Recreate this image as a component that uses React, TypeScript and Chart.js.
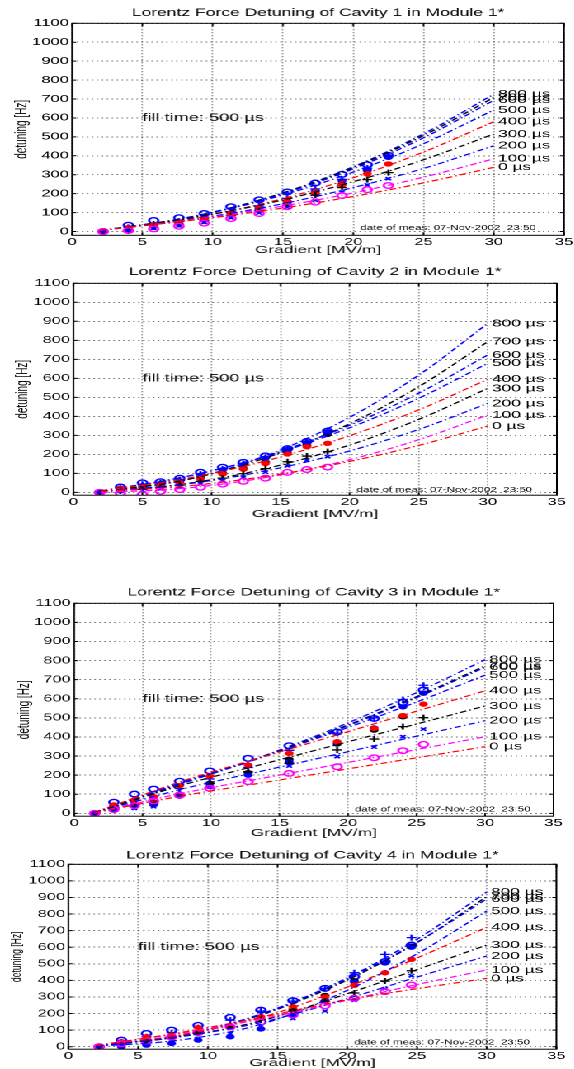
import React, { useEffect, useRef } from "react";
import { Chart, registerables } from "chart.js";
Chart.register(...registerables);

const STRETCH = 1.65;
const PAGE_W = 574;
const PAGE_H = 1069;
const BASE_W = PAGE_W / STRETCH;
const FONT = '"Liberation Sans", Arial, Helvetica, sans-serif';
Chart.defaults.font.family = FONT;

// ---------- axes / labels ----------
const xTicks = [0, 5, 10, 15, 20, 25, 30, 35];
const yTicks = [0, 100, 200, 300, 400, 500, 600, 700, 800, 900, 1000, 1100];
const xAxisTitle = "Gradient [MV/m]";
const yAxisTitle = "detuning [Hz]";
const noteText = "fill time: 500 \u00b5s";
const notePos = [5, 600];
const dateText = "date of meas: 07-Nov-2002  23:50";
const dateX = 20.5;
const fillLabelX = 30.3;
const fillLabels = ["0 \u00b5s", "100 \u00b5s", "200 \u00b5s", "300 \u00b5s", "400 \u00b5s", "500 \u00b5s", "600 \u00b5s", "700 \u00b5s", "800 \u00b5s"];
const fitColors = ["#ff0000", "#ff00ff", "#0000ff", "#000000", "#ff0000", "#0000ff", "#0000ff", "#000000", "#0000ff"];
// measured series: 100..800 us
const measStyles = [
  { style: "circle", color: "#ff00ff", fill: false, r: 2.8, bw: 1.4 },
  { style: "crossRot", color: "#0000ff", fill: false, r: 2.3, bw: 1.3 },
  { style: "cross", color: "#000000", fill: false, r: 3, bw: 1.3 },
  { style: "circle", color: "#ff0000", fill: true, r: 2.2, bw: 1 },
  { style: "circle", color: "#0000ff", fill: true, r: 2.2, bw: 1 },
  { style: "cross", color: "#0000ff", fill: false, r: 3, bw: 1.3 },
  { style: "circle", color: "#000000", fill: true, r: 2.2, bw: 1 },
  { style: "circle", color: "#0000ff", fill: false, r: 2.8, bw: 1.4 },
];

// ---------- Cavity 1 ----------
const cav1FitX = [2, 8, 14, 20, 25, 30];
const cav1Fit = [
  [6, 55, 113, 185, 257, 339],
  [6, 57, 122, 204, 287, 384],
  [5, 59, 132, 232, 333, 453],
  [6, 67, 150, 263, 379, 515],
  [5, 64, 155, 284, 420, 580],
  [5, 71, 172, 314, 464, 642],
  [5, 70, 177, 331, 495, 693],
  [5, 71, 181, 338, 507, 708],
  [5, 68, 180, 342, 516, 725],
];
const cav1MeasX = [2.2, 4.0, 5.8, 7.6, 9.4, 11.3, 13.3, 15.3, 17.3, 19.2, 21.0, 22.5];
const cav1Meas = [
  [0, 5, 14, 28, 44, 68, 95, 131, 155, 190, 221, 243],
  [0, 7, 18, 30, 48, 72, 98, 128, 165, 208, 246, 279],
  [0, 10, 24, 38, 56, 84, 110, 140, 192, 232, 274, 311],
  [0, 20, 36, 50, 66, 95, 122, 162, 202, 245, 305, 357],
  [0, 14, 28, 42, 60, 88, 118, 150, 215, 268, 328, 392],
  [0, 22, 40, 55, 75, 105, 135, 175, 225, 275, 335, 398],
  [0, 18, 35, 50, 68, 98, 125, 160, 205, 250, 322, 395],
  [0, 33, 58, 73, 95, 131, 167, 209, 256, 302, 353, 402],
];

// ---------- Cavity 2 ----------
const cav2FitX = [2, 8, 14, 20, 25, 30];
const cav2Fit = [
  [4, 32, 85, 163, 247, 349],
  [-1, 21, 79, 172, 277, 407],
  [5, 42, 114, 218, 331, 468],
  [4, 44, 126, 249, 384, 547],
  [8, 71, 167, 298, 434, 595],
  [8, 81, 190, 340, 495, 679],
  [8, 80, 193, 353, 522, 723],
  [6, 64, 183, 361, 556, 793],
  [4, 63, 194, 395, 617, 889],
];
const cav2MeasX = [1.9, 3.4, 5.0, 6.3, 7.7, 9.2, 10.8, 12.3, 13.9, 15.5, 16.9, 18.4];
const cav2Meas = [
  [0, -5, -12, 5, 15, 27, 43, 58, 75, 105, 120, 133],
  [0, 5, 10, 18, 28, 44, 60, 80, 106, 139, 170, 188],
  [0, 8, 16, 26, 38, 58, 75, 98, 125, 161, 191, 214],
  [0, 22, 28, 36, 50, 72, 96, 122, 152, 202, 240, 258],
  [0, 18, 35, 45, 60, 90, 118, 145, 180, 225, 262, 318],
  [0, 22, 42, 50, 66, 96, 122, 150, 185, 228, 266, 326],
  [0, 15, 28, 38, 52, 78, 100, 125, 160, 208, 247, 305],
  [0, 28, 50, 56, 74, 106, 132, 158, 192, 230, 268, 322],
];

// ---------- Cavity 3 ----------
const cav3FitX = [1.5, 8, 14, 20, 25, 30];
const cav3Fit = [
  [3, 93, 163, 233, 291, 349],
  [3, 107, 187, 267, 334, 401],
  [3, 129, 226, 323, 404, 485],
  [3, 150, 262, 375, 468, 562],
  [5, 171, 300, 428, 535, 642],
  [5, 165, 302, 450, 583, 724],
  [5, 159, 300, 459, 606, 765],
  [5, 161, 303, 463, 611, 772],
  [5, 160, 305, 474, 632, 805],
];
const cav3MeasX = [1.5, 2.9, 4.4, 5.8, 7.7, 9.9, 12.7, 15.7, 19.2, 21.9, 24.0, 25.5];
const cav3Meas = [
  [0, 20, 40, 65, 95, 131, 166, 209, 244, 291, 328, 361],
  [0, 14, 26, 35, 87, 140, 201, 248, 297, 347, 401, 441],
  [0, 17, 35, 52, 96, 157, 218, 262, 332, 389, 454, 501],
  [0, 44, 70, 87, 145, 195, 253, 314, 375, 445, 512, 572],
  [0, 20, 35, 45, 90, 140, 200, 270, 370, 447, 558, 630],
  [0, 40, 70, 90, 130, 180, 240, 330, 420, 500, 596, 671],
  [0, 26, 47, 58, 101, 157, 213, 283, 363, 436, 506, 630],
  [0, 58, 101, 127, 168, 222, 288, 354, 426, 497, 581, 646],
];

// ---------- Cavity 4 ----------
const cav4FitX = [2, 8, 14, 20, 25, 30];
const cav4Fit = [
  [8, 85, 180, 283, 350, 412],
  [8, 80, 170, 280, 375, 463],
  [5, 60, 150, 290, 420, 547],
  [5, 60, 160, 320, 465, 613],
  [5, 70, 180, 360, 535, 720],
  [3, 40, 140, 340, 560, 818],
  [5, 70, 200, 410, 630, 891],
  [4, 64, 197, 402, 628, 905],
  [4, 66, 203, 415, 648, 933],
];
const cav4MeasX = [2.2, 3.8, 5.6, 7.4, 9.3, 11.6, 13.8, 16.1, 18.4, 20.5, 22.7, 24.6];
const cav4Meas = [
  [0, 18, 35, 58, 85, 120, 150, 191, 247, 292, 332, 372],
  [0, 6, 14, 26, 50, 80, 125, 170, 215, 280, 350, 428],
  [0, 15, 30, 55, 80, 121, 165, 215, 275, 324, 396, 458],
  [0, 30, 60, 70, 115, 127, 181, 241, 300, 370, 446, 527],
  [0, 0, 10, 20, 40, 60, 107, 191, 277, 390, 505, 600],
  [0, 30, 60, 85, 115, 160, 215, 275, 350, 446, 557, 658],
  [0, 20, 36, 56, 85, 121, 171, 225, 309, 398, 507, 607],
  [0, 40, 80, 100, 129, 177, 221, 278, 352, 422, 513, 613],
];

type PanelSpec = {
  title: string;
  canvasTop: number;
  canvasH: number;
  plotLeft: number;
  plotRight: number;
  plotTop: number;
  plotBottom: number;
  yMin: number;
  titleY: number;
  xLabelY: number;
  yLabelX: number;
  yLabelSize: number;
  dateY: number;
  fitX: number[];
  fits: number[][];
  measX: number[];
  meas: number[][];
};

const panels: PanelSpec[] = [
  {
    title: "Lorentz Force Detuning of Cavity 1 in Module 1*",
    canvasTop: 0, canvasH: 260, plotLeft: 72, plotRight: 566, plotTop: 23.3, plotBottom: 235.3, yMin: -20,
    titleY: 13, xLabelY: 250, yLabelX: 22, yLabelSize: 10, dateY: 17,
    fitX: cav1FitX, fits: cav1Fit, measX: cav1MeasX, meas: cav1Meas,
  },
  {
    title: "Lorentz Force Detuning of Cavity 2 in Module 1*",
    canvasTop: 260, canvasH: 265, plotLeft: 73.3, plotRight: 556, plotTop: 283.3, plotBottom: 495.2, yMin: -15,
    titleY: 272, xLabelY: 514, yLabelX: 22.3, yLabelSize: 10, dateY: 12,
    fitX: cav2FitX, fits: cav2Fit, measX: cav2MeasX, meas: cav2Meas,
  },
  {
    title: "Lorentz Force Detuning of Cavity 3 in Module 1*",
    canvasTop: 560, canvasH: 280, plotLeft: 74, plotRight: 552.7, plotTop: 603.3, plotBottom: 816.2, yMin: -15,
    titleY: 592.7, xLabelY: 833, yLabelX: 24, yLabelSize: 10, dateY: 21,
    fitX: cav3FitX, fits: cav3Fit, measX: cav3MeasX, meas: cav3Meas,
  },
  {
    title: "Lorentz Force Detuning of Cavity 4 in Module 1*",
    canvasTop: 840, canvasH: 229, plotLeft: 68.3, plotRight: 555.6, plotTop: 864.3, plotBottom: 1049.2, yMin: -15,
    titleY: 855.5, xLabelY: 1063, yLabelX: 16.3, yLabelSize: 8.6, dateY: 26,
    fitX: cav4FitX, fits: cav4Fit, measX: cav4MeasX, meas: cav4Meas,
  },
];

function Panel({ spec }: { spec: PanelSpec }) {
  const ref = useRef<HTMLCanvasElement | null>(null);
  useEffect(() => {
    const canvas = ref.current;
    if (!canvas) return;
    const datasets: any[] = [];
    spec.fits.forEach((ys, i) => {
      datasets.push({
        label: fillLabels[i],
        data: spec.fitX.map((x, j) => ({ x, y: ys[j] })),
        borderColor: fitColors[i],
        backgroundColor: fitColors[i],
        borderWidth: 1.2,
        borderDash: [4, 2, 1, 2],
        pointRadius: 0,
        fill: false,
        showLine: true,
        cubicInterpolationMode: "monotone",
      });
    });
    spec.meas.forEach((ys, i) => {
      const st = measStyles[i];
      datasets.push({
        label: "meas " + fillLabels[i + 1],
        data: spec.measX.map((x, j) => ({ x, y: ys[j] })),
        showLine: false,
        borderColor: st.color,
        backgroundColor: st.fill ? st.color : "rgba(0,0,0,0)",
        pointStyle: st.style,
        pointRadius: st.r,
        pointBorderWidth: st.bw,
        pointBorderColor: st.color,
        pointBackgroundColor: st.fill ? st.color : "rgba(0,0,0,0)",
      });
    });

    const decor = {
      id: "decor",
      afterDraw(chart: any) {
        const { ctx, chartArea: a, scales } = chart;
        const xs = scales.x;
        const ys = scales.y;
        ctx.save();
        ctx.setLineDash([]);
        ctx.strokeStyle = "#000";
        ctx.lineWidth = 1;
        ctx.beginPath();
        for (const v of xTicks) {
          const px = xs.getPixelForValue(v);
          ctx.moveTo(px, a.bottom);
          ctx.lineTo(px, a.bottom - 3);
          ctx.moveTo(px, a.top);
          ctx.lineTo(px, a.top + 3);
        }
        for (const v of yTicks) {
          const py = ys.getPixelForValue(v);
          ctx.moveTo(a.left, py);
          ctx.lineTo(a.left + 2.5, py);
          ctx.moveTo(a.right, py);
          ctx.lineTo(a.right - 2.5, py);
        }
        ctx.stroke();
        ctx.strokeRect(a.left, a.top, a.right - a.left, a.bottom - a.top);

        ctx.fillStyle = "#000";
        ctx.textAlign = "center";
        ctx.textBaseline = "middle";
        ctx.font = `10.6px ${FONT}`;
        ctx.fillText(spec.title, (a.left + a.right) / 2, spec.titleY - spec.canvasTop);
        ctx.font = `10.5px ${FONT}`;
        ctx.fillText(xAxisTitle, (a.left + a.right) / 2, spec.xLabelY - spec.canvasTop);

        ctx.save();
        ctx.translate(spec.yLabelX / STRETCH, (a.top + a.bottom) / 2);
        ctx.rotate(-Math.PI / 2);
        ctx.font = `${spec.yLabelSize}px ${FONT}`;
        ctx.fillText(yAxisTitle, 0, 0);
        ctx.restore();

        ctx.textAlign = "left";
        ctx.font = `11px ${FONT}`;
        ctx.fillText(noteText, xs.getPixelForValue(notePos[0]), ys.getPixelForValue(notePos[1]));
        ctx.font = `7px ${FONT}`;
        ctx.fillText(dateText, xs.getPixelForValue(dateX), ys.getPixelForValue(spec.dateY));
        ctx.font = `10.5px ${FONT}`;
        spec.fits.forEach((f, i) => {
          ctx.fillText(fillLabels[i], xs.getPixelForValue(fillLabelX), ys.getPixelForValue(f[f.length - 1]));
        });
        ctx.restore();
      },
    };

    const gridOpts = { color: "rgba(0,0,0,0.5)", lineWidth: 1, drawTicks: false };
    const borderOpts = { display: false, dash: [1, 2] };
    const xHeight = spec.canvasH - (spec.plotBottom - spec.canvasTop);
    const chart = new Chart(canvas, {
      type: "line",
      data: { datasets },
      plugins: [decor],
      options: {
        responsive: true,
        maintainAspectRatio: false,
        animation: false,
        devicePixelRatio: 2,
        events: [],
        layout: {
          autoPadding: false,
          padding: {
            left: 0,
            top: spec.plotTop - spec.canvasTop,
            right: BASE_W - spec.plotRight / STRETCH,
            bottom: 0,
          },
        },
        plugins: {
          legend: { display: false },
          tooltip: { enabled: false },
          title: { display: false },
        },
        scales: {
          x: {
            type: "linear",
            min: 0,
            max: 35,
            afterBuildTicks: (axis: any) => {
              axis.ticks = xTicks.map((v) => ({ value: v }));
            },
            afterFit: (axis: any) => {
              axis.height = xHeight;
            },
            ticks: {
              color: "#000",
              font: { size: 10, family: FONT },
              padding: 1,
              maxRotation: 0,
              autoSkip: false,
              callback: (v: any) => String(v),
            },
            grid: gridOpts,
            border: borderOpts,
          },
          y: {
            type: "linear",
            min: spec.yMin,
            max: 1100,
            afterBuildTicks: (axis: any) => {
              axis.ticks = yTicks.map((v) => ({ value: v }));
            },
            afterFit: (axis: any) => {
              axis.width = spec.plotLeft / STRETCH;
            },
            ticks: {
              color: "#000",
              font: { size: 10, family: FONT },
              padding: 2,
              autoSkip: false,
              callback: (v: any) => String(v),
            },
            grid: gridOpts,
            border: borderOpts,
          },
        },
      } as any,
    });
    return () => chart.destroy();
  }, [spec]);

  return (
    <div style={{ position: "absolute", left: 0, top: spec.canvasTop, width: BASE_W, height: spec.canvasH }}>
      <canvas ref={ref} />
    </div>
  );
}

export default function App() {
  useEffect(() => {
    document.body.style.overflow = "hidden";
  }, []);
  return (
    <div
      style={{
        position: "absolute",
        left: 0,
        top: 0,
        width: BASE_W,
        height: PAGE_H,
        transform: `scaleX(${STRETCH})`,
        transformOrigin: "0 0",
        background: "#fff",
      }}
    >
      {panels.map((p, i) => (
        <Panel key={i} spec={p} />
      ))}
    </div>
  );
}
